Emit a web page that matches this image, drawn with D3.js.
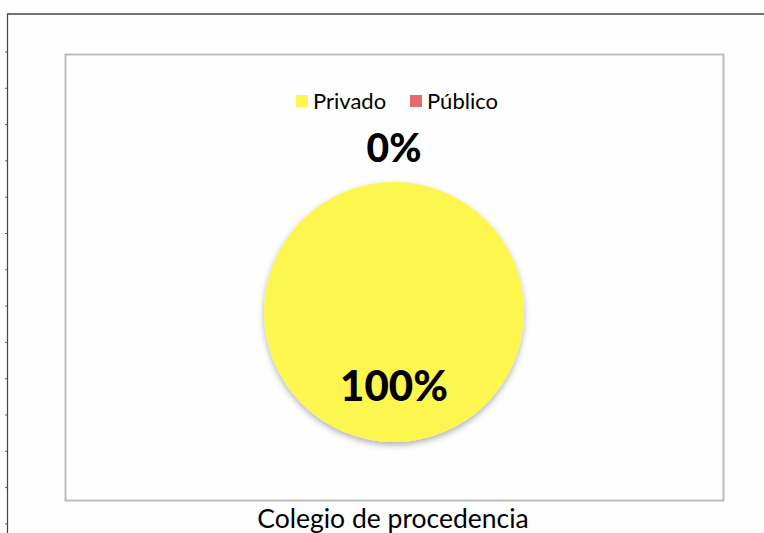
<!DOCTYPE html>
<html>
<head>
<meta charset="utf-8">
<script src="https://cdn.jsdelivr.net/npm/d3@7"></script>
<style>
  body { margin: 0; background: #fdfdfd; }
  svg { display: block; }
</style>
</head>
<body>
<svg id="chart" width="764" height="533"></svg>
<script>
// data
var categories = ["Privado", "Público"];
var values = [100, 0];
var colors = ["#fdf64f", "#e46c6c"];
var title = "Colegio de procedencia";

var svg = d3.select("#chart");
var fontFam = "Lato, 'Open Sans', sans-serif";

// outer frame (top + left line with small ticks)
svg.append("line").attr("x1", 7).attr("x2", 764).attr("y1", 14).attr("y2", 14)
    .attr("stroke", "#444").attr("stroke-width", 1.5);
svg.append("line").attr("x1", 7.5).attr("x2", 7.5).attr("y1", 14).attr("y2", 533)
    .attr("stroke", "#444").attr("stroke-width", 1.2);
var tickY = d3.range(52, 533, 36.3);
svg.selectAll(".ltick").data(tickY).enter().append("line")
    .attr("class", "ltick")
    .attr("x1", 5).attr("x2", 7).attr("y1", d => d).attr("y2", d => d)
    .attr("stroke", "#666");

// plot box
svg.append("rect").attr("x", 65.5).attr("y", 54.5).attr("width", 658).attr("height", 446)
    .attr("fill", "#fefefe").attr("stroke", "#bdbdbd").attr("stroke-width", 2);

// legend
var legendX = [296, 410];
var leg = svg.selectAll(".legend").data(categories).enter().append("g")
    .attr("class", "legend")
    .attr("transform", (d, i) => "translate(" + legendX[i] + ",95)");
leg.append("rect").attr("width", 12).attr("height", 12)
    .attr("fill", (d, i) => colors[i]);
leg.append("text").attr("x", 17).attr("y", 14)
    .attr("font-family", fontFam).attr("font-size", 22).attr("fill", "#000")
    .text(d => d);

// pie
var cx = 394, cy = 312, r = 130;
var pie = d3.pie().sort(null).value(d => d);
var arcs = pie(values);
var arc = d3.arc().innerRadius(0).outerRadius(r);
var g = svg.append("g").attr("transform", "translate(" + cx + "," + cy + ")");

var defs = svg.append("defs");
var f = defs.append("filter").attr("id", "shadow").attr("x", "-20%").attr("y", "-20%")
    .attr("width", "140%").attr("height", "140%");
f.append("feDropShadow").attr("dx", 0).attr("dy", 3).attr("stdDeviation", 3)
    .attr("flood-color", "#000").attr("flood-opacity", 0.3);

g.selectAll("path").data(arcs).enter().append("path")
    .attr("d", arc)
    .attr("fill", (d, i) => colors[i])
    .attr("filter", "url(#shadow)");

// labels
var total = d3.sum(values);
var inArc = d3.arc().innerRadius(r * 0.57).outerRadius(r * 0.57);
var outArc = d3.arc().innerRadius(r + 34).outerRadius(r + 34);
g.selectAll(".lbl").data(arcs).enter().append("text")
    .attr("class", "lbl")
    .attr("transform", d => "translate(" + (d.value > 0 ? inArc : outArc).centroid(d) + ")")
    .attr("text-anchor", "middle")
    .attr("dy", "0.36em")
    .attr("font-family", fontFam).attr("font-weight", 900)
    .attr("font-size", d => d.value > 0 ? 42 : 39)
    .attr("fill", "#000")
    .text(d => Math.round(d.value / total * 100) + "%");

// title
svg.append("text").attr("x", 393).attr("y", 528)
    .attr("text-anchor", "middle")
    .attr("font-family", fontFam).attr("font-size", 26.5).attr("fill", "#000")
    .text(title);
</script>
</body>
</html>
